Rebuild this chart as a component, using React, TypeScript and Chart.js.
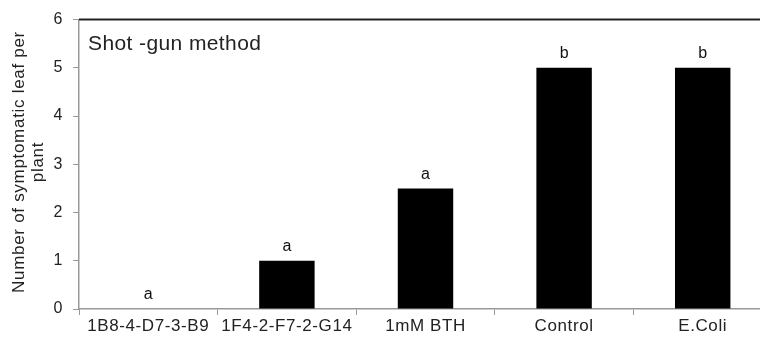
import React, { useEffect, useRef } from "react";
import { Chart, registerables } from "chart.js";

Chart.register(...registerables);

const categories = ["1B8-4-D7-3-B9", "1F4-2-F7-2-G14", "1mM BTH", "Control", "E.Coli"];
const values = [0, 1, 2.5, 5, 5];
const letters = ["a", "a", "a", "b", "b"];
const yTicks = [0, 1, 2, 3, 4, 5, 6];
const panelTitle = "Shot -gun method";
const yTitleLines = ["Number of symptomatic leaf per", "plant"];

const FONT = "'Liberation Sans', Arial, sans-serif";
const SPACING = "0.6px";

const spacingPlugin = {
  id: "spacing",
  beforeUpdate(chart: any) {
    chart.ctx.letterSpacing = SPACING;
  },
  beforeLayout(chart: any) {
    chart.ctx.letterSpacing = SPACING;
  },
  beforeDraw(chart: any) {
    chart.ctx.letterSpacing = SPACING;
  },
};

const decor = {
  id: "decor",
  afterDatasetsDraw(chart: any) {
    const ctx = chart.ctx;
    const area = chart.chartArea;
    const meta = chart.getDatasetMeta(0);
    ctx.save();
    // top frame line
    ctx.strokeStyle = "#222";
    ctx.lineWidth = 2;
    ctx.beginPath();
    ctx.moveTo(area.left, area.top);
    ctx.lineTo(area.right + 10, area.top);
    ctx.stroke();
    // letters above bars
    ctx.fillStyle = "#111";
    ctx.letterSpacing = "0px";
    ctx.font = `16px ${FONT}`;
    ctx.textAlign = "center";
    ctx.textBaseline = "bottom";
    meta.data.forEach((bar: any, i: number) => {
      ctx.fillText(letters[i], bar.x, bar.y - 6);
    });
    // panel title
    ctx.letterSpacing = "0.4px";
    ctx.font = `21px ${FONT}`;
    ctx.textAlign = "left";
    ctx.textBaseline = "middle";
    ctx.fillStyle = "#222";
    ctx.fillText(panelTitle, area.left + 9, 44);
    // y axis title
    ctx.letterSpacing = "0.7px";
    ctx.translate(19, 162);
    ctx.rotate(-Math.PI / 2);
    ctx.font = `17px ${FONT}`;
    ctx.textAlign = "center";
    ctx.textBaseline = "middle";
    ctx.fillText(yTitleLines[0], 0, 0);
    ctx.fillText(yTitleLines[1], 0, 19);
    ctx.restore();
  },
};

export default function App() {
  const ref = useRef<HTMLCanvasElement>(null);
  useEffect(() => {
    if (!ref.current) return;
    const chart = new Chart(ref.current, {
      type: "bar",
      data: {
        labels: categories,
        datasets: [
          {
            data: values,
            backgroundColor: "#000",
            borderWidth: 0,
            barPercentage: 0.4,
            categoryPercentage: 1,
          },
        ],
      },
      options: {
        animation: false,
        responsive: false,
        maintainAspectRatio: false,
        layout: { padding: { left: 0, top: 18, right: 0, bottom: 0 } },
        plugins: { legend: { display: false }, tooltip: { enabled: false }, title: { display: false } },
        scales: {
          x: {
            offset: true,
            grid: {
              display: true,
              offset: true,
              drawOnChartArea: false,
              tickLength: 6,
              color: "#999",
            },
            border: { display: true, color: "#999", width: 1.5 },
            ticks: {
              color: "#222",
              font: { family: FONT, size: 17 },
              padding: 1,
              maxRotation: 0,
              autoSkip: false,
            },
            afterFit(s: any) {
              s.height = 31;
            },
          },
          y: {
            min: 0,
            max: 6,
            afterBuildTicks(s: any) {
              s.ticks = yTicks.map((v) => ({ value: v }));
            },
            grid: {
              display: true,
              drawOnChartArea: false,
              tickLength: 6,
              color: "#999",
            },
            border: { display: true, color: "#999", width: 1.5 },
            ticks: {
              color: "#222",
              font: { family: FONT, size: 16 },
              padding: 10,
            },
            afterFit(s: any) {
              s.width = 79;
            },
          },
        },
      },
      plugins: [spacingPlugin, decor],
    });
    return () => chart.destroy();
  }, []);
  return (
    <div style={{ position: "fixed", left: 0, top: 0, width: 760, height: 340, overflow: "hidden", background: "#fff" }}>
      <canvas ref={ref} width={772} height={340} style={{ display: "block", width: 772, height: 340 }} />
    </div>
  );
}
